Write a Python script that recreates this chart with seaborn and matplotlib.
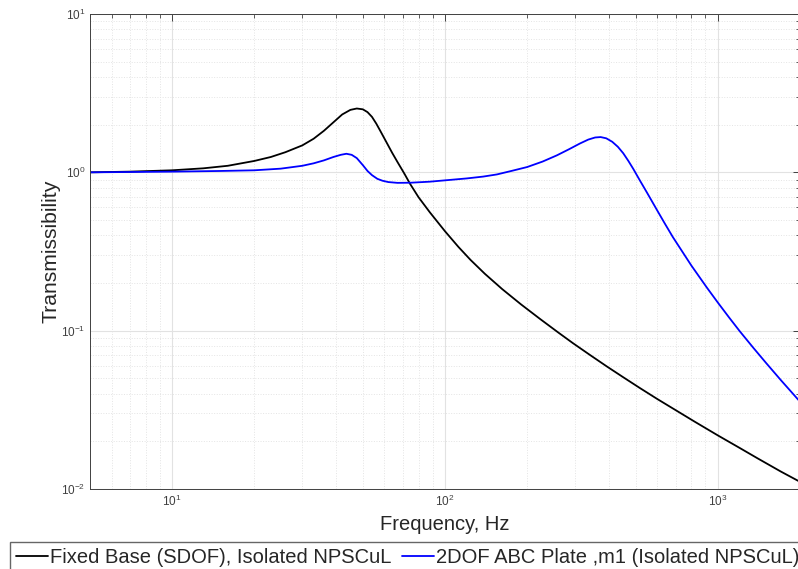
import matplotlib
matplotlib.use("Agg")
import matplotlib.pyplot as plt
import seaborn as sns
import pandas as pd

# values (Hz, transmissibility)
freq_sdof = [5, 7, 10, 13, 16, 20, 23, 26, 30, 33, 36, 39, 42, 45, 47.5, 50,
             52, 54, 56, 58, 61, 64, 67, 71, 74.5, 80, 88, 100, 112, 124, 140,
             162, 190, 223, 260, 294, 340, 392, 450, 517, 600, 700, 820, 1000,
             1200, 1400, 1700, 2000]
trans_sdof = [1.00, 1.01, 1.03, 1.06, 1.10, 1.18, 1.25, 1.34, 1.48, 1.63,
              1.83, 2.07, 2.32, 2.48, 2.53, 2.50, 2.40, 2.24, 2.03, 1.82,
              1.55, 1.33, 1.16, 0.98, 0.845, 0.696, 0.559, 0.4245, 0.338, 0.280,
              0.2286, 0.1831, 0.1465, 0.1186, 0.0974, 0.0835, 0.0702, 0.0594,
              0.0508, 0.0435, 0.0370, 0.0315, 0.0267, 0.0218, 0.0182, 0.0156,
              0.0129, 0.0111]

freq_2dof = [5, 10, 15, 20, 25, 30, 33, 36, 39, 41.5, 43.5, 45.5, 47.5, 50,
             52, 54, 56.5, 59, 62, 67, 75, 88, 100, 120, 138, 155, 175, 200,
             228, 257, 285, 312, 335, 355, 372, 390, 410, 430, 450, 470, 490,
             517, 550, 600, 640, 684, 800, 912, 1000, 1100, 1205, 1350, 1500,
             1700, 2000]
trans_2dof = [1.00, 1.01, 1.02, 1.03, 1.055, 1.10, 1.14, 1.19, 1.25, 1.29,
              1.31, 1.29, 1.23, 1.11, 1.02, 0.96, 0.91, 0.885, 0.868, 0.858,
              0.86, 0.873, 0.89, 0.915, 0.94, 0.97, 1.02, 1.08, 1.17, 1.28,
              1.40, 1.52, 1.61, 1.66, 1.67, 1.64, 1.56, 1.45, 1.32, 1.18,
              1.05, 0.893, 0.744, 0.573, 0.473, 0.39, 0.2575, 0.1868, 0.1504,
              0.121, 0.0988, 0.0778, 0.0627, 0.0488, 0.0356]

label_sdof = "Fixed Base (SDOF), Isolated NPSCuL"
label_2dof = "2DOF ABC Plate ,m1 (Isolated NPSCuL)"

sns.set_style("white")
plt.rcParams["font.family"] = ["Liberation Sans", "DejaVu Sans"]
plt.rcParams["mathtext.default"] = "regular"

df_sdof = pd.DataFrame({"f": freq_sdof, "T": trans_sdof})
df_2dof = pd.DataFrame({"f": freq_2dof, "T": trans_2dof})

fig = plt.figure(figsize=(7.98, 5.69), dpi=100)
ax = fig.add_axes([90 / 798, 80 / 569, 710 / 798, 475 / 569])

sns.lineplot(data=df_sdof, x="f", y="T", color="black", lw=1.3,
             label=label_sdof, ax=ax, legend=False)
sns.lineplot(data=df_2dof, x="f", y="T", color="#0000ff", lw=1.3,
             label=label_2dof, ax=ax, legend=False)

ax.set_xscale("log")
ax.set_yscale("log")
ax.set_xlim(5, 2000)
ax.set_ylim(0.01, 10)

ax.grid(which="major", color="#e2e2e2", lw=0.8, ls="-")
ax.grid(which="minor", color="#e4e4e4", lw=0.7, ls=":")
ax.set_axisbelow(True)

ax.tick_params(which="both", direction="in", top=True, right=True,
               colors="#404040", labelsize=8.5)
ax.tick_params(which="major", length=5, width=0.7)
ax.tick_params(which="minor", length=3, width=0.6)
for sp in ax.spines.values():
    sp.set_color("#404040")
    sp.set_linewidth(0.7)

ax.set_xlabel("Frequency, Hz", fontsize=14.5, color="#262626", labelpad=4)
ax.set_ylabel("Transmissibility", fontsize=15.2, color="#262626", labelpad=0)

handles, labels = ax.get_legend_handles_labels()
fig.legend(handles, labels, loc="upper left", bbox_to_anchor=(10 / 798, 1 - 542 / 569),
           ncol=2, fontsize=14.5, frameon=True, fancybox=False, edgecolor="#404040",
           handlelength=1.6, handletextpad=0.1, columnspacing=0.5,
           borderpad=0.3, borderaxespad=0)

fig.savefig("out.png", dpi=100)
